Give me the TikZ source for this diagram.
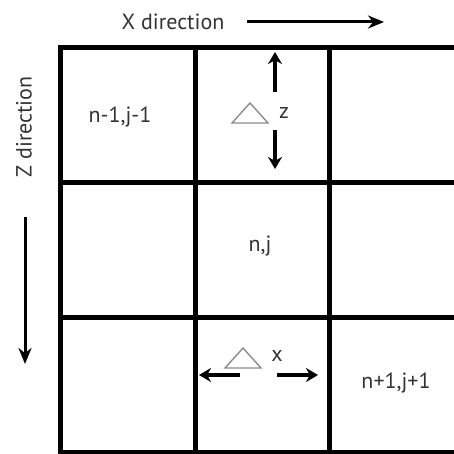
\documentclass[tikz,border=0pt]{standalone}
\usepackage{fontspec}
\setmainfont{PT Sans}
\usepackage{tikz}
\usetikzlibrary{arrows.meta, positioning, calc}

\begin{document}
\begin{tikzpicture}[
        x=1pt, y=-1pt,
        % Define styles
        gridline/.style={draw, line width=5pt, line cap=rect},
        celltext/.style={text=black!80, font=\fontsize{22}{24}\selectfont, inner sep=0pt},
        dirarrow/.style={draw, line width=3pt, -{Stealth[length=16pt, width=13pt]}},
        steparrow/.style={draw, line width=3.4pt, -{Stealth[length=12pt, width=14pt]}},
        deltashape/.style={draw=black!45, line width=1.4pt, line join=miter}
    ]
    \clip (0,0) rectangle (454,454);

    % --- Grid ---
    \foreach \gx in {60,195,329,464} {
        \draw[gridline] (\gx,48) -- (\gx,452);
    }
    \foreach \gy in {48,183,317,452} {
        \draw[gridline] (60,\gy) -- (464,\gy);
    }

    % --- Direction labels ---
    \node[celltext] (xdir) at (173,22) {X direction};
    \coordinate (xtail) at (247,22);
    \coordinate (xhead) at (384,22);
    \draw[dirarrow] (xtail) -- (xhead);

    \node[celltext, rotate=90] (zdir) at (24,127) {Z direction};
    \coordinate (ztail) at (25,217);
    \coordinate (zhead) at (25,364);
    \draw[dirarrow] (ztail) -- (zhead);

    % --- Cell labels ---
    \node[celltext] (cellA) at (120,117) {n-1,j-1};
    \node[celltext] (cellB) at (260,246) {n,j};
    \node[celltext] (cellC) at (396,383) {n+1,j+1};

    % --- Delta z ---
    \coordinate (dz) at (250,113);
    \draw[deltashape] ($(dz)+(-18,10)$) -- ($(dz)+(0,-10)$) -- ($(dz)+(18,10)$) -- cycle;
    \node[celltext] (zlab) at (284,113) {z};
    \coordinate (zup) at (275,52);
    \coordinate (zupfoot) at (275,92);
    \coordinate (zdown) at (275,169);
    \coordinate (zdownfoot) at (275,130);
    \draw[steparrow] (zupfoot) -- (zup);
    \draw[steparrow] (zdownfoot) -- (zdown);

    % --- Delta x ---
    \coordinate (dx) at (243,358);
    \draw[deltashape] ($(dx)+(-18,10)$) -- ($(dx)+(0,-10)$) -- ($(dx)+(18,10)$) -- cycle;
    \node[celltext] (xlab) at (277,356) {x};
    \coordinate (xleft) at (199,375);
    \coordinate (xleftfoot) at (240,375);
    \coordinate (xright) at (318,375);
    \coordinate (xrightfoot) at (277,375);
    \draw[steparrow] (xleftfoot) -- (xleft);
    \draw[steparrow] (xrightfoot) -- (xright);
\end{tikzpicture}
\end{document}
